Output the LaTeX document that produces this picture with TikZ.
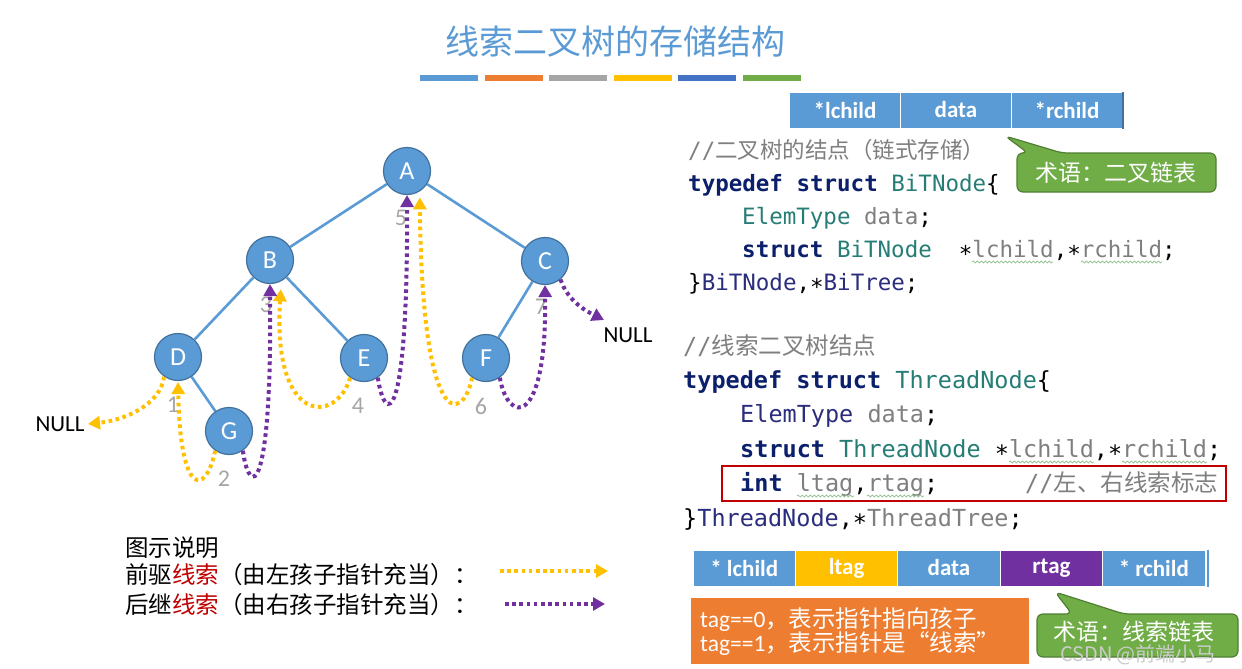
\documentclass[tikz,border=0pt]{standalone}
\usepackage{fontspec}
\setmainfont{Carlito}
\setmonofont{DejaVu Sans Mono}
\newfontfamily\cjk{Noto Sans CJK SC}
\usetikzlibrary{arrows.meta,calc,decorations.pathmorphing}
\definecolor{treeblue}{HTML}{5B9BD5}
\definecolor{nodeline}{HTML}{41719C}
\definecolor{predcol}{HTML}{FFC000}
\definecolor{succcol}{HTML}{7030A0}
\definecolor{orangecol}{HTML}{ED7D31}
\definecolor{graycol}{HTML}{A5A5A5}
\definecolor{darkblue}{HTML}{4472C4}
\definecolor{greencol}{HTML}{70AD47}
\definecolor{greenline}{HTML}{507E32}
\definecolor{redline}{HTML}{C00000}
\definecolor{kwcol}{HTML}{0B1F6B}
\definecolor{navycol}{HTML}{2A2C7C}
\definecolor{typecol}{HTML}{267D75}
\definecolor{fieldcol}{HTML}{7F7F7F}
\definecolor{numcol}{HTML}{A6A6A6}
\definecolor{squigcol}{HTML}{8CC08C}
\newcommand{\fsz}[1]{\fontsize{#1}{#1}\selectfont}
\newcommand{\kw}[1]{\textcolor{kwcol}{\bfseries #1}}
\newcommand{\ty}[1]{\textcolor{typecol}{#1}}
\newcommand{\fd}[1]{\textcolor{fieldcol}{#1}}
\begin{document}
\begin{tikzpicture}[x=1pt,y=-1pt,
    tnode/.style={circle, draw=nodeline, line width=1.2pt, fill=treeblue, minimum size=47pt, inner sep=0pt, text=white, font=\fsz{26}},
    tedge/.style={treeblue, line width=2.6pt},
    pred/.style={predcol, line width=4pt, dash pattern=on 3.6pt off 3.6pt, -{Triangle[length=12pt,width=13pt]}},
    succ/.style={succcol, line width=4pt, dash pattern=on 3.6pt off 3.6pt, -{Triangle[length=12pt,width=13pt]}},
    num/.style={text=numcol, font=\fsz{24}},
    cell/.style={minimum height=36pt, inner sep=0pt, text=white, font=\bfseries\fsz{23}, draw=white, line width=1pt},
    code/.style={anchor=base west, inner sep=0pt, font=\ttfamily\fsz{22.5}},
    codeb/.style={anchor=base west, inner sep=0pt, font=\ttfamily\fsz{23.5}},
    squig/.style={squigcol, line width=0.7pt, decorate, decoration={snake, amplitude=1pt, segment length=4pt}},
    callout/.style={fill=greencol, draw=greenline, line width=1.2pt, rounded corners=6pt},
    callouttext/.style={text=white, font=\cjk\fsz{23}},
    legend/.style={anchor=west, inner sep=0pt, font=\cjk\fsz{23.5}}
  ]
  \useasboundingbox (0,0) rectangle (1242,669);
  \fill[white] (0,0) rectangle (1242,669);

  % title
  \node[text=treeblue, font=\cjk\fsz{34}] (title) at (615,42) {线索二叉树的存储结构};
  \foreach \c [count=\i from 0] in {treeblue,orangecol,graycol,predcol,darkblue,greencol}
    \fill[\c] ({420+\i*64.6},75) rectangle +(58,6);

  % tree
  \node[tnode] (A) at (407,171) {A};
  \node[tnode] (B) at (270,260) {B};
  \node[tnode] (C) at (545,261) {C};
  \node[tnode] (D) at (178,357) {D};
  \node[tnode] (E) at (364,358) {E};
  \node[tnode] (F) at (486,358) {F};
  \node[tnode] (G) at (229,431) {G};
  \draw[tedge] (A) -- (B);
  \draw[tedge] (A) -- (C);
  \draw[tedge] (B) -- (D);
  \draw[tedge] (B) -- (E);
  \draw[tedge] (C) -- (F);
  \draw[tedge] (D) -- (G);

  % visiting order
  \node[num] (n1) at (173,405) {1};
  \node[num] (n2) at (224,479) {2};
  \node[num] (n3) at (266,305) {3};
  \node[num] (n4) at (358,406) {4};
  \node[num] (n5) at (401,218) {5};
  \node[num] (n6) at (481,406) {6};
  \node[num] (n7) at (541,307) {7};

  \node[font=\fsz{23}] (nullL) at (60,424) {NULL};
  \node[font=\fsz{23}] (nullR) at (628,335) {NULL};

  % threads
  \draw[pred] (D.235) .. controls (160,405) and (125,420) .. (nullL.east);
  \draw[pred, shorten >=1pt] (G.235) .. controls (205,498) and (180,495) .. (D.south);
  \draw[pred, shorten >=8pt] (E.235) .. controls (336,425) and (272,425) .. (B.-62);
  \draw[pred, shorten >=6pt] (F.235) .. controls (462,425) and (422,430) .. (A.-58);
  \draw[succ] (G.-55) .. controls (250,500) and (272,495) .. (B.south);
  \draw[succ] (E.-55) .. controls (385,425) and (408,430) .. (A.south);
  \draw[succ] (F.-55) .. controls (508,425) and (547,428) .. (C.south);
  \draw[succ] (C.-50) .. controls (568,302) and (588,312) .. ($(nullR.north west)+(4,-4)$);

  % legend
  \node[legend] (lg0) at (125,548) {图示说明};
  \node[legend] (lg1) at (125,575) {前驱\textcolor{redline}{线索}（由左孩子指针充当）：};
  \node[legend] (lg2) at (125,605) {后继\textcolor{redline}{线索}（由右孩子指针充当）：};
  \coordinate (p0) at (500,571);
  \coordinate (p1) at (608,571);
  \coordinate (s0) at (505,604);
  \coordinate (s1) at (605,604);
  \draw[pred] (p0) -- (p1);
  \draw[succ] (s0) -- (s1);

  % binary linked node
  \node[cell, fill=treeblue, minimum width=110.7pt] (lc) at (845,110) {*lchild};
  \node[cell, fill=treeblue, minimum width=110.7pt] (dt) at (956,110) {data};
  \node[cell, fill=treeblue, minimum width=110.7pt] (rc) at (1067,110) {*rchild};
  \draw[nodeline, line width=1.5pt] (rc.north east) -- (rc.south east);

  \node[code, text=fieldcol] (c1) at (688,158) {//{\cjk 二叉树的结点（链式存储）}};
  \node[code] (c2) at (688,191) {\kw{typedef struct} \ty{BiTNode}\{};
  \node[code] (c3) at (742,224) {\ty{ElemType} \fd{data};};
  \node[code] (c4) at (742,257) {\kw{struct} \ty{BiTNode}~~∗\fd{lchild},∗\fd{rchild};};
  \node[code] (c5) at (688,290) {\}\textcolor{navycol}{BiTNode},∗\textcolor{navycol}{BiTree};};
  \draw[squig] ($(c4.base west)+(230,5)$) -- ++(81,0);
  \draw[squig] ($(c4.base west)+(339,5)$) -- ++(81,0);

  \draw[callout] (1017,192) -- (1017,153) -- (1028,153) -- (1005,136) -- (1062,153) -- (1216,153) -- (1216,192) -- cycle;
  \node[callouttext] (term1) at (1116,173) {术语：二叉链表};

  % thread node
  \node[codeb, text=fieldcol] (c6) at (683,354) {//{\cjk 线索二叉树结点}};
  \node[codeb] (c7) at (683,388) {\kw{typedef struct} \ty{ThreadNode}\{};
  \node[codeb] (c8) at (740,422) {\textcolor{navycol}{ElemType} \fd{data};};
  \node[codeb] (c9) at (740,457) {\kw{struct} \ty{ThreadNode} ∗\fd{lchild},∗\fd{rchild};};
  \node[codeb] (c10) at (740,491) {\kw{int} \fd{ltag},\fd{rtag};};
  \node[codeb, text=fieldcol] (c11) at (1025,491) {//{\cjk 左、右线索标志}};
  \node[codeb] (c12) at (683,526) {\}\textcolor{navycol}{ThreadNode},∗\fd{ThreadTree};};
  \draw[squig] ($(c9.base west)+(269,5)$) -- ++(85,0);
  \draw[squig] ($(c9.base west)+(382,5)$) -- ++(85,0);
  \draw[squig] ($(c10.base west)+(57,5)$) -- ++(57,0);
  \draw[squig] ($(c10.base west)+(127,5)$) -- ++(57,0);
  \draw[redline, line width=2pt] (722,466) rectangle (1226,501);

  \node[cell, fill=treeblue, minimum width=102.4pt] (tlc) at (744.2,568) {* lchild};
  \node[cell, fill=predcol, minimum width=102.4pt] (tlt) at (846.6,568) {ltag};
  \node[cell, fill=treeblue, minimum width=102.4pt] (tdt) at (949,568) {data};
  \node[cell, fill=succcol, minimum width=102.4pt] (trt) at (1051.4,568) {rtag};
  \node[cell, fill=treeblue, minimum width=102.4pt] (trc) at (1153.8,568) {* rchild};
  \draw[treeblue, line width=2pt] ($(trc.north east)+(2,0)$) -- ($(trc.south east)+(2,0)$);

  \node[fill=orangecol, anchor=north west, text width=320pt, inner xsep=9pt, minimum height=66pt, align=left, text=white, font=\fsz{23.5}] (tagbox) at (691,598)
    {tag==0{\cjk ，表示指针指向孩子}\\[-1pt]tag==1{\cjk ，表示指针是“线索”}};

  \draw[callout] (1037,657) -- (1037,614) -- (1072,614) -- (1055,592) -- (1124,614) -- (1238,614) -- (1238,657) -- cycle;
  \node[callouttext] (term2) at (1134,632) {术语：线索链表};

  \node[text=gray!40, font=\cjk\fsz{20}] (mark) at (1138,655) {CSDN @前端小马};
\end{tikzpicture}
\end{document}
